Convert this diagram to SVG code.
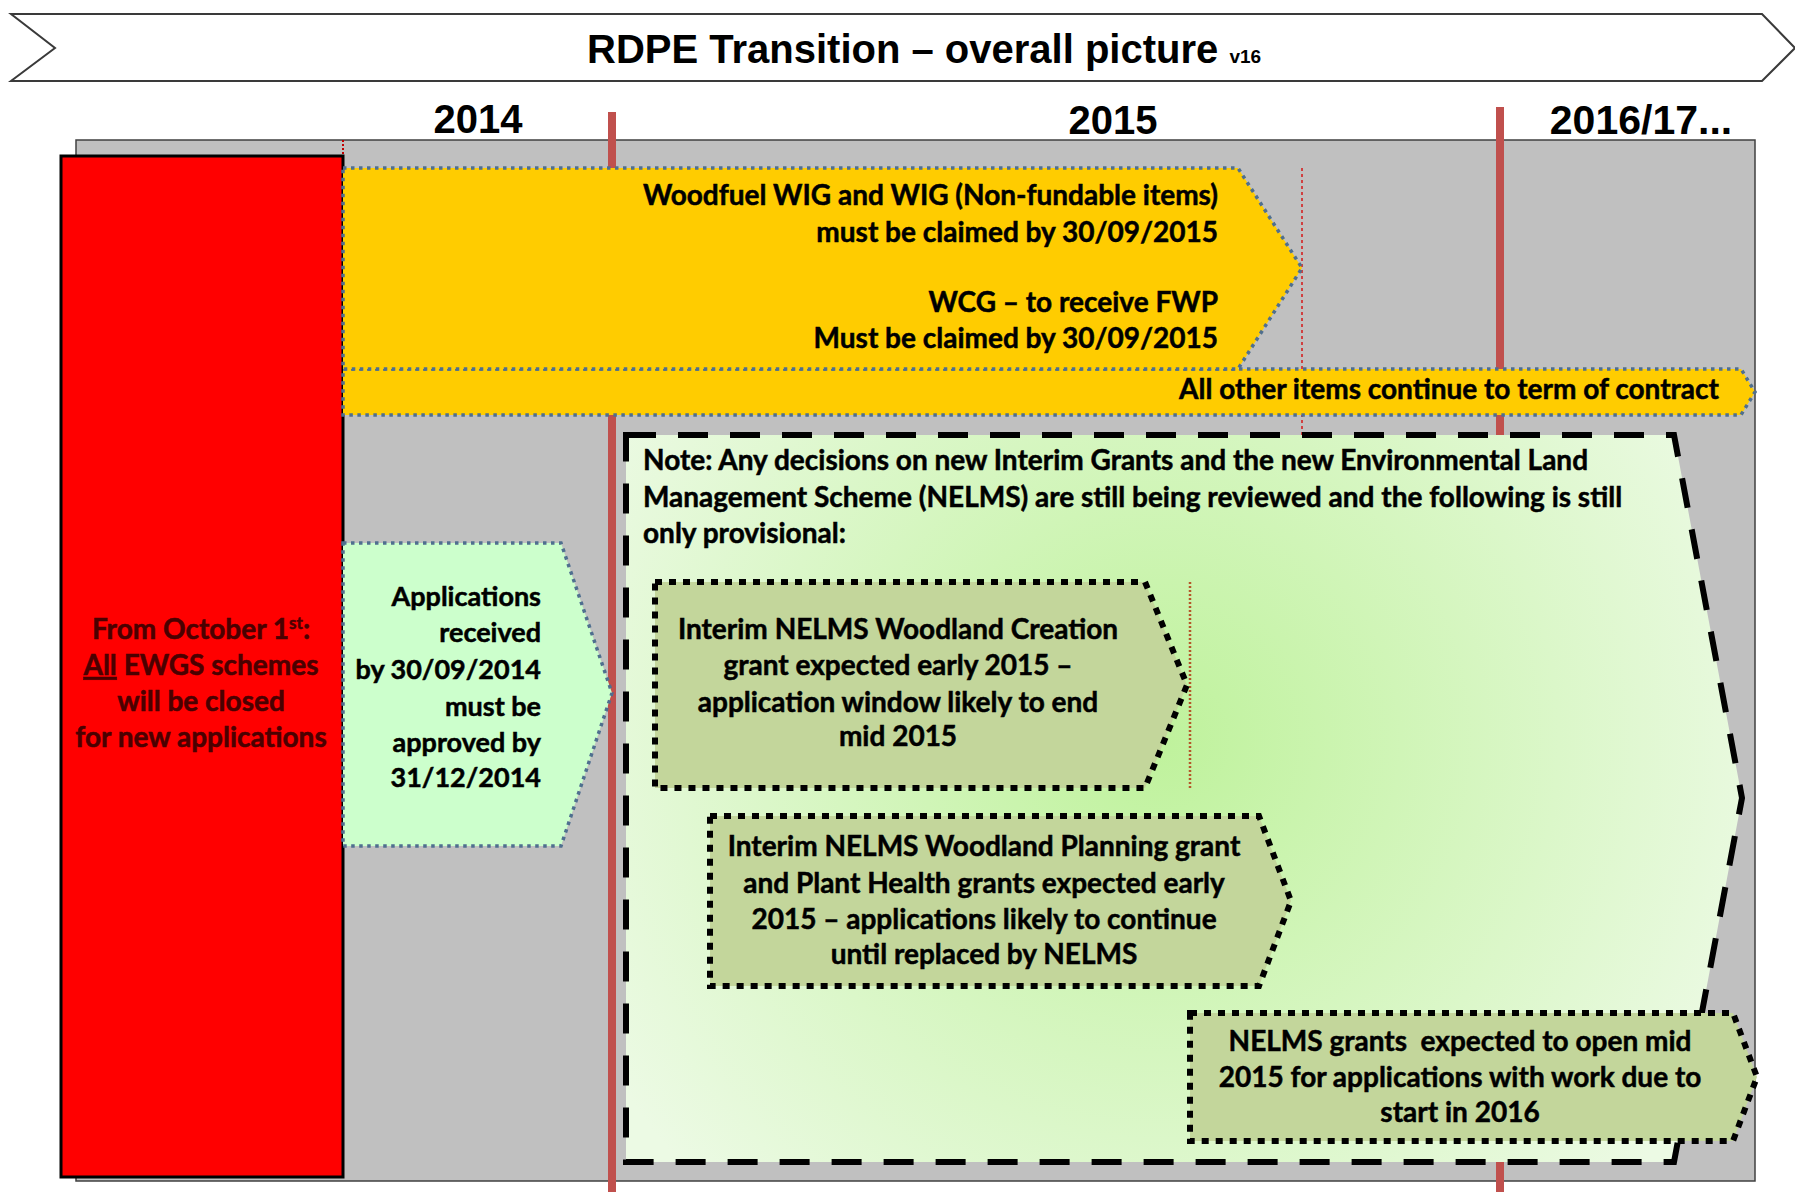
<svg xmlns="http://www.w3.org/2000/svg" width="1795" height="1192" viewBox="0 0 1795 1192">
<defs>
<radialGradient id="gNote" gradientUnits="userSpaceOnUse" cx="1160" cy="740" r="640">
<stop offset="0" stop-color="#bff29c"/>
<stop offset="1" stop-color="#ecfae4"/>
</radialGradient>
</defs>
<style>
.t{font-family:Lato,"Open Sans","Liberation Sans",sans-serif;font-weight:700;font-size:28px;fill:#000;stroke:#000;stroke-width:0.5}
.s{font-size:27px}
.h{font-family:"Liberation Sans",Arial,sans-serif;font-weight:700;fill:#000}
.e{text-anchor:end}
.m{text-anchor:middle}
.dotb{stroke:#4f6f8f;stroke-width:3.5;stroke-dasharray:3.5 4.5}
.inner{fill:#c3d69b;stroke:#000;stroke-width:6;stroke-dasharray:7 7}
.redt{fill:#4a0000;stroke:#4a0000}
</style>
<rect width="1795" height="1192" fill="#fff"/>
<g id="title">
<polygon points="11,14 1762,14 1795,48 1762,81 11,81 55,48" fill="#fff" stroke="#3a3a3a" stroke-width="2"/>
<text class="h" x="587" y="63" font-size="40">RDPE Transition – overall picture <tspan font-size="19">v16</tspan></text>
</g>
<g id="years">
<text class="h m" x="478" y="133" font-size="40">2014</text>
<text class="h m" x="1113" y="134" font-size="40">2015</text>
<text class="h m" x="1641" y="134" font-size="41">2016/17...</text>
</g>
<g id="panel">
<rect x="76" y="140" width="1679" height="1041" fill="#c0c0c0" stroke="#404040" stroke-width="1.5"/>
</g>
<g id="connectors">
<rect x="608" y="112" width="8" height="1080" fill="#c0504d"/>
<rect x="1496" y="107" width="8" height="1085" fill="#c0504d"/>
<line x1="343" y1="140" x2="343" y2="156" stroke="#c00000" stroke-width="2" stroke-dasharray="2 2"/>
<line x1="1302" y1="168" x2="1302" y2="437" stroke="#d04040" stroke-width="2" stroke-dasharray="3 3"/>
</g>
<g id="closed">
<rect x="61" y="156" width="282" height="1021" fill="#ff0000" stroke="#000" stroke-width="3"/>
<text class="t m redt" x="201" y="639">From October 1<tspan font-size="17" dy="-10">st</tspan><tspan dy="10">:</tspan></text>
<text class="t m redt" x="201" y="675"><tspan text-decoration="underline">All</tspan> EWGS schemes</text>
<text class="t m redt" x="201" y="711">will be closed</text>
<text class="t m redt" x="201" y="747">for new applications</text>
</g>
<g id="other-items">
<polygon class="dotb" points="343,369 1741,369 1755,392 1741,415 343,415" fill="#ffcc00"/>
<text class="t e" x="1719" y="399">All other items continue to term of contract</text>
</g>
<g id="woodfuel">
<polygon class="dotb" points="343,168 1238,168 1302,268 1238,369 343,369" fill="#ffcc00"/>
<text class="t e" x="1218" y="205">Woodfuel WIG and WIG (Non-fundable items)</text>
<text class="t e" x="1218" y="242">must be claimed by 30/09/2015</text>
<text class="t e" x="1218" y="312">WCG – to receive FWP</text>
<text class="t e" x="1218" y="348">Must be claimed by 30/09/2015</text>
</g>
<g id="applications">
<polygon class="dotb" points="343,543 561,543 612,693 561,846 343,846" fill="#ccffcc"/>
<text class="t e s" x="541" y="606">Applications</text>
<text class="t e s" x="541" y="642">received</text>
<text class="t e s" x="541" y="679">by 30/09/2014</text>
<text class="t e s" x="541" y="716">must be</text>
<text class="t e s" x="541" y="752">approved by</text>
<text class="t e s" x="541" y="787">31/12/2014</text>
</g>
<g id="note">
<polygon points="626,435 1674,435 1742,798 1674,1162 626,1162" fill="url(#gNote)" stroke="#000" stroke-width="6" stroke-dasharray="30 22"/>
<text class="t" x="643" y="470">Note: Any decisions on new Interim Grants and the new Environmental Land</text>
<text class="t" x="643" y="507">Management Scheme (NELMS) are still being reviewed and the following is still</text>
<text class="t" x="643" y="543">only provisional:</text>
<line x1="1190" y1="582" x2="1190" y2="788" stroke="#b5562a" stroke-width="2.5" stroke-dasharray="2 2"/>
</g>
<g id="woodland-creation">
<polygon class="inner" points="655,582 1145,582 1187,685 1145,788 655,788"/>
<text class="t m" x="898" y="639">Interim NELMS Woodland Creation</text>
<text class="t m" x="898" y="675">grant expected early 2015 –</text>
<text class="t m" x="898" y="712">application window likely to end</text>
<text class="t m" x="898" y="746">mid 2015</text>
</g>
<g id="woodland-planning">
<polygon class="inner" points="710,816 1259,816 1291,901 1259,986 710,986"/>
<text class="t m" x="984" y="856">Interim NELMS Woodland Planning grant</text>
<text class="t m" x="984" y="893">and Plant Health grants expected early</text>
<text class="t m" x="984" y="929">2015 – applications likely to continue</text>
<text class="t m" x="984" y="964">until replaced by NELMS</text>
</g>
<g id="nelms-grants">
<polygon class="inner" points="1190,1013 1733,1013 1757,1077 1733,1141 1190,1141"/>
<text class="t m" x="1460" y="1051" xml:space="preserve">NELMS grants  expected to open mid</text>
<text class="t m" x="1460" y="1087">2015 for applications with work due to</text>
<text class="t m" x="1460" y="1122">start in 2016</text>
</g>
</svg>
